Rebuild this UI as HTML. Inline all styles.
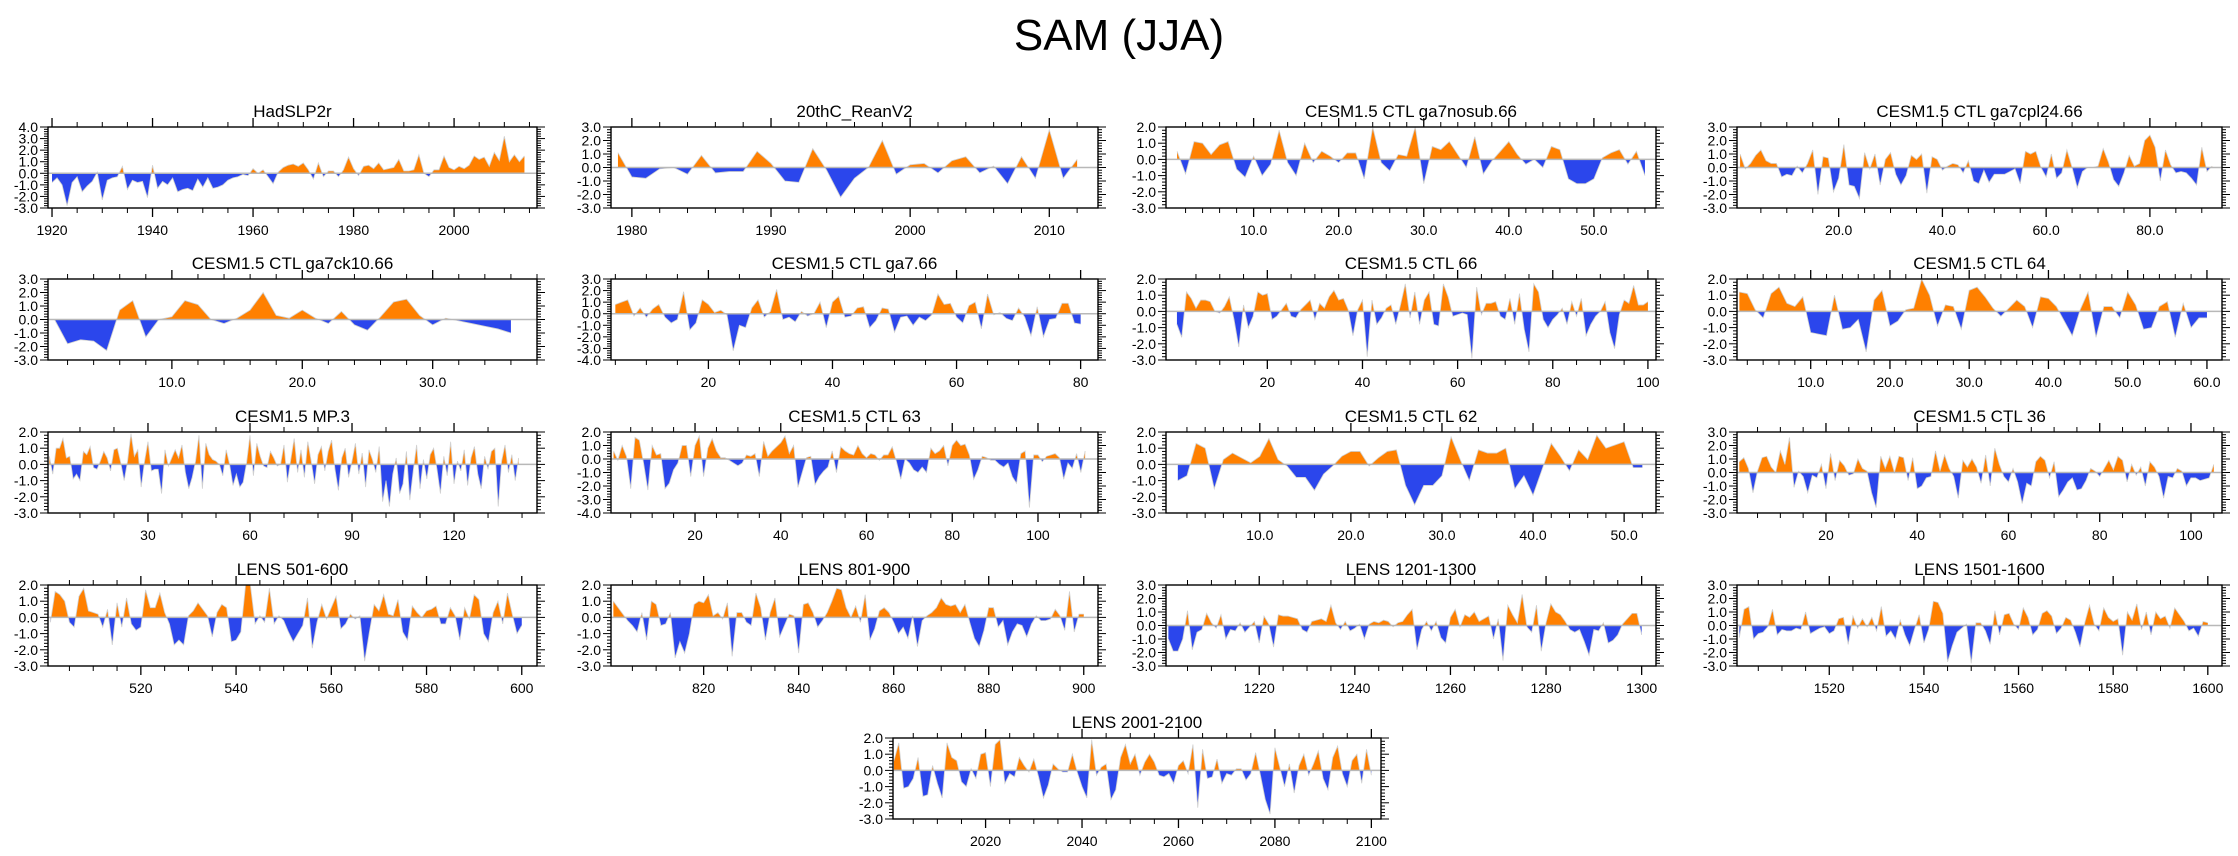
<!DOCTYPE html>
<html><head><meta charset="utf-8"><title>SAM (JJA)</title>
<style>html,body{margin:0;padding:0;background:#fff;}svg{display:block;font-family:"Liberation Sans",Arial,sans-serif;}</style>
</head><body>
<svg id="chart" width="2238" height="856" viewBox="0 0 2238 856" xmlns="http://www.w3.org/2000/svg">
<text x="1119" y="50" text-anchor="middle" font-size="44">SAM (JJA)</text>
</svg>
<script>
const titles = ["HadSLP2r","20thC_ReanV2","CESM1.5 CTL ga7nosub.66","CESM1.5 CTL ga7cpl24.66","CESM1.5 CTL ga7ck10.66","CESM1.5 CTL ga7.66","CESM1.5 CTL 66","CESM1.5 CTL 64","CESM1.5 MP.3","CESM1.5 CTL 63","CESM1.5 CTL 62","CESM1.5 CTL 36","LENS 501-600","LENS 801-900","LENS 1201-1300","LENS 1501-1600","LENS 2001-2100"];
const startX = [1920,1979,1,1,1,5,1,1,1,1,1,1,501,801,1201,1501,2001];
const xDomains = [[1919.2,2016.5],[1978.5,2013.5],[-0.3,57.3],[0.4,93.9],[0.5,38],[4.3,82.8],[-1.3,101.7],[0.7,61.9],[0.6,144.4],[0.4,114],[-0.3,53.5],[0.5,106.8],[500.5,603.2],[800.5,903],[1200.5,1303],[1500.5,1603],[2000.8,2102]];
const yDomains = [[-3,4],[-3,3],[-3,2],[-3,3],[-3,3],[-4,3],[-3,2],[-3,2],[-3,2],[-4,2],[-3,2],[-3,3],[-3,2],[-3,2],[-3,3],[-3,3],[-3,2]];
const xMajor = [20,10,10,20,10,20,20,10,30,20,10,20,20,20,20,20,20];
const xMinor = [5,2,2,5,2,5,5,2,10,5,2,5,5,5,5,5,5];
const xDecimal = [false,false,true,true,true,false,false,true,false,false,true,false,false,false,false,false,false];

const s1 = [-0.8,-0.4,-1.0,-2.8,-0.8,-0.3,-1.6,-1.1,-0.7,0.1,-2.3,-0.6,-0.4,-0.3,0.6,-1.4,-0.6,-0.8,-0.7,-2.1,0.7,-1.3,-0.7,-1.0,-0.4,-1.6,-1.4,-1.3,-1.5,-0.5,-1.2,-0.4,-1.3,-1.2,-1.0,-0.6,-0.4,-0.3,-0.1,-0.2,0.4,0.0,0.3,-0.3,-0.9,0.1,0.5,0.7,0.8,0.6,0.9,0.3,-0.5,0.9,-0.3,0.2,0.2,-0.3,0.3,1.4,0.4,-0.2,0.6,0.7,0.4,0.9,0.3,0.4,0.5,1.2,0.2,0.2,0.3,1.6,0.0,-0.3,0.3,0.3,1.5,0.5,0.3,0.6,0.4,0.7,1.5,1.2,1.4,0.6,1.8,1.1,3.2,1.0,1.6,1.0,1.5];
const s2 = [1.1,-0.7,-0.8,-0.1,0.0,-0.5,0.9,-0.4,-0.3,-0.3,1.2,0.3,-1.0,-1.1,1.4,-0.2,-2.2,-0.8,0.0,2.0,-0.5,0.2,0.3,-0.4,0.5,0.8,-0.4,0.1,-1.2,0.8,-0.8,2.8,-0.8,0.6];
const s3 = [0.5,-0.9,1.1,1.0,0.3,0.9,1.1,-0.6,-1.1,0.2,-1.0,-0.3,1.8,-0.2,-1.0,1.0,-0.2,0.5,0.2,-0.2,0.4,0.4,-1.2,2.0,-0.2,-0.7,0.3,0.2,2.0,-1.5,0.8,0.6,1.1,0.3,-0.5,1.4,-0.9,-0.1,0.5,1.1,0.3,-0.3,0.0,-0.5,0.8,0.6,-1.2,-1.5,-1.5,-1.2,0.1,0.4,0.6,-0.3,0.5,-1.0];
const s4 = [1.0,-0.1,0.3,0.9,1.3,0.5,0.3,0.3,-0.7,-0.5,-0.6,0.1,-0.4,0.3,1.3,-2.0,0.8,0.7,-1.8,-0.8,1.7,-1.3,-1.4,-2.3,1.1,-0.1,1.0,-1.3,0.6,1.1,-0.5,-1.3,-0.6,0.9,0.6,1.0,-1.9,0.8,0.6,-0.2,0.1,0.3,0.2,-0.4,0.5,-1.0,-1.2,-0.2,-1.1,-0.5,-0.5,-0.5,-0.3,-0.1,-1.2,1.2,1.0,1.2,0.0,-0.7,1.0,-0.8,-0.4,1.3,0.0,-1.5,-0.3,0.0,0.0,0.1,1.4,0.4,-0.9,-1.4,-0.4,0.9,0.1,0.3,2.0,2.4,1.5,-1.0,1.3,0.2,-0.4,-0.3,-0.4,-0.8,-1.3,1.5,-0.3,0.1];
const s5 = [0.0,-1.8,-1.5,-1.6,-2.3,0.7,1.4,-1.3,0.0,0.2,1.4,1.1,0.0,-0.3,0.1,0.7,2.0,0.3,0.1,0.7,0.1,-0.3,0.6,-0.4,-0.8,0.2,1.3,1.5,0.3,-0.4,0.1,-0.1,-0.3,-0.5,-0.7,-1.0];
const s6 = [0.8,1.0,1.2,-0.2,0.5,-0.3,0.4,0.8,-0.3,-0.8,-0.5,1.9,-1.4,-0.8,1.2,0.8,0.1,0.3,-0.1,-3.2,-1.0,-1.2,0.5,1.2,-0.3,0.2,2.1,-0.5,-0.3,-0.7,0.2,-0.2,0.0,1.0,-1.2,1.0,1.5,-0.3,-0.2,0.5,0.6,-1.2,-0.6,0.5,0.4,-1.6,-0.3,-0.2,-1.0,-0.3,-0.6,-0.1,1.7,0.8,0.9,-0.3,-0.8,0.7,1.0,-1.3,1.7,-0.1,0.1,-0.4,-0.6,0.5,-0.3,-1.9,0.6,-2.0,-0.5,-0.4,0.9,0.9,-0.8,-0.9];
const s7 = [-0.8,-1.6,1.2,0.8,0.2,0.7,0.7,0.6,0.0,-0.1,0.3,0.9,-0.5,-2.2,0.4,-1.0,-0.3,1.2,1.0,1.1,-0.5,-0.3,0.1,0.5,-0.3,-0.4,0.1,0.4,0.7,-0.5,0.5,0.2,0.9,1.3,0.7,0.8,0.1,-1.5,0.1,0.7,-2.8,0.7,-0.8,-0.4,0.2,0.4,-0.8,0.4,1.7,-0.4,1.2,-0.8,0.7,1.2,-0.8,-0.9,1.7,0.9,-0.3,-0.2,-0.1,-0.2,-2.9,1.5,-0.2,0.5,0.5,0.6,-0.3,-0.5,0.8,-0.8,1.1,-1.1,-2.5,1.7,1.2,-0.5,-1.0,-0.5,-0.2,0.2,-0.8,0.6,-0.3,0.8,-1.5,-0.8,-0.3,0.0,0.6,-1.3,-2.3,-0.2,0.7,0.5,1.6,0.4,0.4,0.6];
const s8 = [1.2,1.1,0.1,-0.4,1.1,1.5,0.5,0.3,0.9,-1.3,-1.4,-1.5,1.0,-1.1,-1.0,-0.5,-2.5,0.7,1.3,-0.9,-0.6,0.1,0.2,2.0,1.0,-0.9,0.4,0.3,-1.1,1.3,1.5,0.9,0.2,-0.3,0.2,0.7,0.3,-1.0,0.9,0.8,0.3,-0.6,-1.5,0.1,1.2,-1.6,0.3,0.3,-0.4,1.2,0.4,-1.1,-1.0,0.3,0.6,-1.6,0.5,-1.0,-0.4,-0.4];
const s9 = [0.5,-0.6,1.0,1.0,1.6,0.4,0.5,-0.9,-0.6,-1.0,0.8,0.6,1.1,-0.2,-0.3,0.2,0.8,0.4,-0.4,0.9,1.0,0.1,-1.0,0.2,1.9,0.5,0.9,-1.4,0.2,1.4,-0.4,-0.3,-0.3,-1.8,0.9,-0.1,0.4,0.9,0.4,1.2,-0.5,-1.5,-0.8,0.2,1.8,-1.5,1.3,0.6,0.3,0.2,0.0,-0.7,0.9,0.0,-1.3,-0.6,-1.4,-1.1,0.1,1.8,-0.7,1.3,0.5,-0.1,-0.2,0.8,0.4,-0.1,0.0,1.2,-1.1,0.3,1.6,-0.5,0.9,-0.8,1.4,0.2,-1.2,0.6,1.1,-0.4,0.8,1.5,-0.3,-1.6,0.4,1.0,-0.8,0.2,1.3,-0.6,0.7,-1.4,0.9,0.3,-0.5,1.1,-2.3,-1.0,-2.6,-0.6,0.4,-1.8,-1.2,0.8,-2.2,-0.4,1.2,-1.5,0.3,-0.9,0.6,1.0,-0.3,-1.8,0.5,-0.7,1.4,-1.2,0.2,-0.4,0.9,-1.3,0.4,1.1,-0.6,-1.5,0.5,-0.3,0.8,1.0,-2.6,0.2,1.2,-0.5,0.6,-1.0,0.4];
const s10 = [0.6,-0.1,1.0,0.2,-2.2,1.6,1.4,-0.3,-2.3,1.0,0.3,0.4,-2.2,-1.8,-0.8,-0.3,1.0,1.0,-1.3,1.0,1.7,-1.3,0.8,1.5,0.6,0.1,0.1,-0.1,-0.3,-0.5,-0.3,0.3,0.2,0.4,-1.3,1.3,0.2,0.6,0.9,1.2,1.7,0.4,1.0,-2.1,-1.0,0.1,0.2,-1.9,-1.3,-0.9,-0.6,0.6,-1.0,0.9,0.6,0.4,0.3,1.0,0.4,0.1,0.4,0.3,-0.1,0.3,0.3,0.9,-0.2,-1.5,0.0,-0.3,-0.8,-1.0,-0.6,-1.0,0.8,0.4,0.6,1.0,-0.5,1.0,1.4,1.0,1.1,0.3,-1.5,-0.8,0.2,0.1,-0.1,-0.1,-0.4,-0.6,-0.3,-1.3,-1.8,0.4,0.6,-3.6,0.3,0.3,-0.2,0.2,0.3,0.4,0.1,-1.5,-0.3,-0.7,0.4,-1.0,0.6];
const s11 = [-1.0,-0.7,1.3,1.0,-1.5,0.3,0.7,0.4,0.1,0.5,1.6,0.3,-0.1,-0.8,-0.8,-1.6,-0.6,-0.1,0.5,0.8,0.8,-0.1,0.4,0.8,0.9,-1.3,-2.5,-1.3,-1.3,-0.7,1.7,0.3,-1.0,0.9,0.7,0.7,1.0,-1.5,-0.7,-1.9,-0.3,1.3,0.5,-0.4,0.9,0.3,1.8,1.0,1.2,1.4,-0.2,-0.2];
const s12 = [0.8,1.1,0.3,-1.5,0.1,1.1,1.2,0.4,0.0,1.6,0.6,2.6,-1.1,0.1,-0.3,-1.5,-0.2,-0.4,0.6,-1.2,1.4,-0.6,0.9,0.5,-0.2,-0.1,1.0,0.3,0.1,-1.5,-2.6,1.2,0.3,1.2,0.0,1.2,1.1,-0.6,1.1,-1.2,-1.0,-0.4,-0.3,1.6,0.1,1.3,0.3,-0.3,-1.9,0.9,0.4,1.0,0.4,-0.8,1.3,-1.0,1.8,0.6,-0.3,-0.7,0.3,-0.7,-2.3,-0.8,-1.0,0.8,1.2,0.9,-0.4,0.8,-1.8,-1.3,-0.7,-0.4,-1.3,-1.2,-0.6,0.3,0.1,-0.3,0.3,0.9,0.2,1.2,0.9,-0.7,0.6,-0.2,0.4,-1.0,0.8,0.4,-0.3,-1.9,-0.3,-0.4,0.3,0.1,-1.0,-0.4,-0.4,-0.6,-0.5,-0.4,0.6];
const s13 = [-0.3,1.6,1.4,1.0,-0.3,-0.6,1.3,1.8,0.4,0.3,0.2,-0.6,0.5,-1.7,0.9,-0.6,1.2,-0.4,-0.8,-0.6,1.7,0.6,0.6,1.5,0.3,-0.4,-1.7,-1.4,-1.7,0.1,0.4,0.9,0.5,0.1,-1.2,0.3,0.8,0.6,-1.5,-1.4,-0.9,2.0,2.0,-0.4,0.1,-0.3,1.8,-0.4,0.1,-0.2,-0.9,-1.5,-1.0,-0.5,1.2,-1.9,-0.3,0.8,-0.1,0.6,1.3,-0.7,-0.4,0.2,-0.1,0.1,-2.7,-0.9,0.8,0.4,1.4,0.2,0.1,1.1,-0.9,-1.4,0.7,0.3,0.0,0.4,0.5,0.7,-0.4,-0.4,0.6,0.1,-1.4,0.6,-0.1,1.4,1.1,-1.0,-1.5,0.3,1.0,-0.4,1.5,0.2,-1.0,-0.5];
const s14 = [1.0,0.6,0.2,-0.2,-0.5,-0.9,0.3,-1.4,1.0,0.8,-0.5,-0.4,0.3,-2.5,-1.5,-2.2,-1.0,0.8,1.0,0.9,1.4,0.1,0.3,-0.1,0.9,-2.4,0.3,0.3,-0.3,-0.5,1.5,0.6,-1.4,0.3,1.2,-1.2,-0.5,0.2,0.1,-2.2,0.8,0.9,0.3,-0.6,-0.2,0.3,1.0,1.8,1.7,0.6,0.0,0.7,-0.3,1.4,-1.4,-0.7,0.4,0.6,0.3,-0.3,-1.0,-0.6,-1.3,0.1,-1.8,-0.2,0.1,0.3,0.6,1.2,0.8,0.7,0.8,0.3,0.8,-0.3,-1.3,-1.8,-0.8,0.6,0.6,-0.6,-0.2,-1.7,-0.9,-0.4,-0.5,-1.2,-0.4,0.1,-0.2,-0.2,-0.1,0.5,0.1,-0.8,1.6,-0.9,0.2,0.2];
const s15 = [-1.0,-1.9,-1.9,-1.0,1.1,-1.8,-0.5,-0.3,0.9,0.2,-0.2,0.8,-1.0,-0.3,-0.4,0.2,-0.5,-0.1,0.3,-1.3,0.7,0.1,-1.6,0.8,0.7,0.7,0.6,0.5,-0.3,-0.5,0.3,0.4,0.5,0.3,1.5,0.2,-0.3,0.3,-0.4,-0.2,0.1,-1.0,0.1,0.3,0.2,0.4,0.3,-0.1,0.2,0.3,0.8,1.2,-1.8,-0.3,0.3,-0.4,0.3,-0.9,-1.3,0.6,1.2,-0.1,0.8,0.6,1.0,0.3,0.5,0.7,-1.0,0.5,-2.6,1.5,0.8,0.2,2.3,-0.1,-0.5,1.5,-1.9,0.2,1.6,1.0,0.8,0.3,-0.3,-0.5,-0.3,-1.2,-2.2,-0.3,-0.4,0.2,-1.3,-1.1,-0.7,0.1,0.5,0.9,0.9,-0.7];
const s16 = [-0.9,1.2,1.4,-1.0,-0.6,-0.5,-0.1,1.2,-0.7,-0.3,-0.4,-0.4,-0.2,-0.3,1.0,-0.6,-0.4,-0.2,-0.1,-0.6,-0.4,0.5,0.6,-1.4,0.7,-0.2,0.5,-0.1,0.6,-0.4,1.4,-0.8,-0.4,-1.0,0.4,-0.7,-1.5,-0.3,0.8,-1.3,-0.3,1.8,1.7,0.9,-2.7,-1.5,-0.5,-0.2,0.1,-2.8,0.2,0.2,-0.4,-1.4,1.1,-0.7,0.8,0.9,0.1,-0.3,1.3,0.6,-0.7,-0.3,0.9,1.1,0.7,-0.6,-0.2,0.6,0.4,-0.5,-1.6,0.2,1.5,0.1,-0.4,1.3,0.6,0.3,0.5,-2.2,1.0,0.4,1.6,-0.3,1.0,-0.7,1.0,0.5,0.7,-0.2,1.3,0.8,0.3,-0.4,-0.2,-0.8,0.3,0.2];
const s17 = [0.6,1.7,-1.1,-1.0,-0.5,0.8,-1.6,-1.5,0.3,-0.8,-1.7,1.7,0.8,0.6,-0.7,-1.0,0.1,-0.5,1.0,1.1,-1.0,1.6,1.9,-0.8,-0.2,-0.4,0.8,0.3,-0.1,0.7,-0.4,-1.7,-0.9,0.4,0.1,-0.1,-0.1,1.0,-0.1,-1.0,-1.7,1.9,-0.3,0.2,0.4,-1.8,-1.2,0.8,1.6,0.4,1.0,-0.3,0.5,1.0,0.5,-0.3,-0.4,-0.2,-0.8,0.3,0.6,-0.2,1.6,-2.3,1.3,-0.5,-0.4,0.7,-0.8,-0.2,-0.3,0.1,0.1,-0.6,-0.2,1.1,-0.3,-1.8,-2.7,1.4,0.2,-1.0,0.4,-1.4,0.3,1.0,-0.3,0.4,1.2,-0.5,-1.2,0.8,1.5,-0.2,-1.0,0.6,1.0,-0.8,1.3,-0.3];
const series = [s1,s2,s3,s4,s5,s6,s7,s8,s9,s10,s11,s12,s13,s14,s15,s16,s17];

const NS = "http://www.w3.org/2000/svg";
const svg = document.getElementById("chart");
const colLeft = [48,611,1166,1737];
const colWidth = [489,487,490,485];
const rowTop = [127,279,432,585,738];
const BOX_H = 81;
function mk(tag, attrs, parent) {
  const e = document.createElementNS(NS, tag);
  for (const k in attrs) e.setAttribute(k, attrs[k]);
  parent.appendChild(e);
  return e;
}
function fmt(v){ const r=Math.round(v*10)/10; return (r===0?0:r).toFixed(1); }

for (let p = 0; p < 17; p++) {
  let bx, bw, by;
  if (p < 16) { bx = colLeft[p%4]; bw = colWidth[p%4]; by = rowTop[Math.floor(p/4)]; }
  else { bx = 893; bw = 488; by = rowTop[4]; }
  const [x0,x1] = xDomains[p], [y0,y1] = yDomains[p];
  const sx = v => bx + (v - x0) / (x1 - x0) * bw;
  const sy = v => by + BOX_H - (v - y0) / (y1 - y0) * BOX_H;
  const g = mk("g", {}, svg);
  
  
  const t = mk("text", {x: bx + bw/2, y: by - 10, "text-anchor": "middle", "font-size": 17}, g);
  t.textContent = titles[p];
  
  
  const vals = series[p];
  let d = "M" + sx(startX[p]).toFixed(2) + "," + sy(0).toFixed(2);
  let line = "";
  vals.forEach((v,i) => {
    const X = sx(startX[p]+i).toFixed(2), Y = sy(v).toFixed(2);
    d += " L" + X + "," + Y;
    line += (i===0?"M":" L") + X + "," + Y;
  });
  d += " L" + sx(startX[p]+vals.length-1).toFixed(2) + "," + sy(0).toFixed(2) + " Z";
  const cid = "c" + p;
  const defs = mk("defs", {}, g);
  const cpA = mk("clipPath", {id: cid+"a"}, defs);
  mk("rect", {x: bx, y: by, width: bw, height: sy(0)-by}, cpA);
  const cpB = mk("clipPath", {id: cid+"b"}, defs);
  mk("rect", {x: bx, y: sy(0), width: bw, height: by+BOX_H-sy(0)}, cpB);
  const pos = mk("path", {d: d, fill: "#ff8000", "clip-path": "url(#"+cid+"a)"}, g);
  
  
  const neg = mk("path", {d: d, fill: "#2b46ec", "clip-path": "url(#"+cid+"b)"}, g);
  
  
  const ln = mk("path", {d: line, fill: "none", stroke: "#d0d0d0", "stroke-width": 0.8}, g);
  
  
  const zl = mk("line", {x1: bx, x2: bx+bw, y1: sy(0), y2: sy(0), stroke: "#b8b8b8", "stroke-width": 1.5}, g);
  
  
  const box = mk("rect", {x: bx, y: by, width: bw, height: BOX_H, fill: "none", stroke: "#000", "stroke-width": 1.4}, g);
  
  
  for (let k = Math.round(y0*5); k <= Math.round(y1*5); k++) {
    const v = k/5, Y = sy(v), major = (k % 5 === 0);
    const L = major ? 8 : 4;
    mk("line", {x1: bx-L, x2: bx, y1: Y, y2: Y, stroke: "#000", "stroke-width": 1}, g);
    mk("line", {x1: bx+bw, x2: bx+bw+L, y1: Y, y2: Y, stroke: "#000", "stroke-width": 1}, g);
    if (major) {
      const yl = mk("text", {x: bx-10, y: Y+5, "text-anchor": "end", "font-size": 14}, g);
      yl.textContent = fmt(v);
      
      
    }
  }
  const mn = xMinor[p], mj = xMajor[p];
  for (let v = Math.ceil(x0/mn)*mn; v <= x1; v += mn) {
    if (v <= 0) continue;
    const X = sx(v), major = (Math.abs(v/mj - Math.round(v/mj)) < 1e-6);
    const L = major ? 9 : 5;
    mk("line", {x1: X, x2: X, y1: by+BOX_H, y2: by+BOX_H+L, stroke: "#000", "stroke-width": major?1.3:1}, g);
    mk("line", {x1: X, x2: X, y1: by-L, y2: by, stroke: "#000", "stroke-width": major?1.3:1}, g);
    if (major) {
      const xl = mk("text", {x: X, y: by+BOX_H+27, "text-anchor": "middle", "font-size": 14}, g);
      xl.textContent = xDecimal[p] ? v.toFixed(1) : String(v);
      
      
    }
  }
}
</script>
</body></html>
